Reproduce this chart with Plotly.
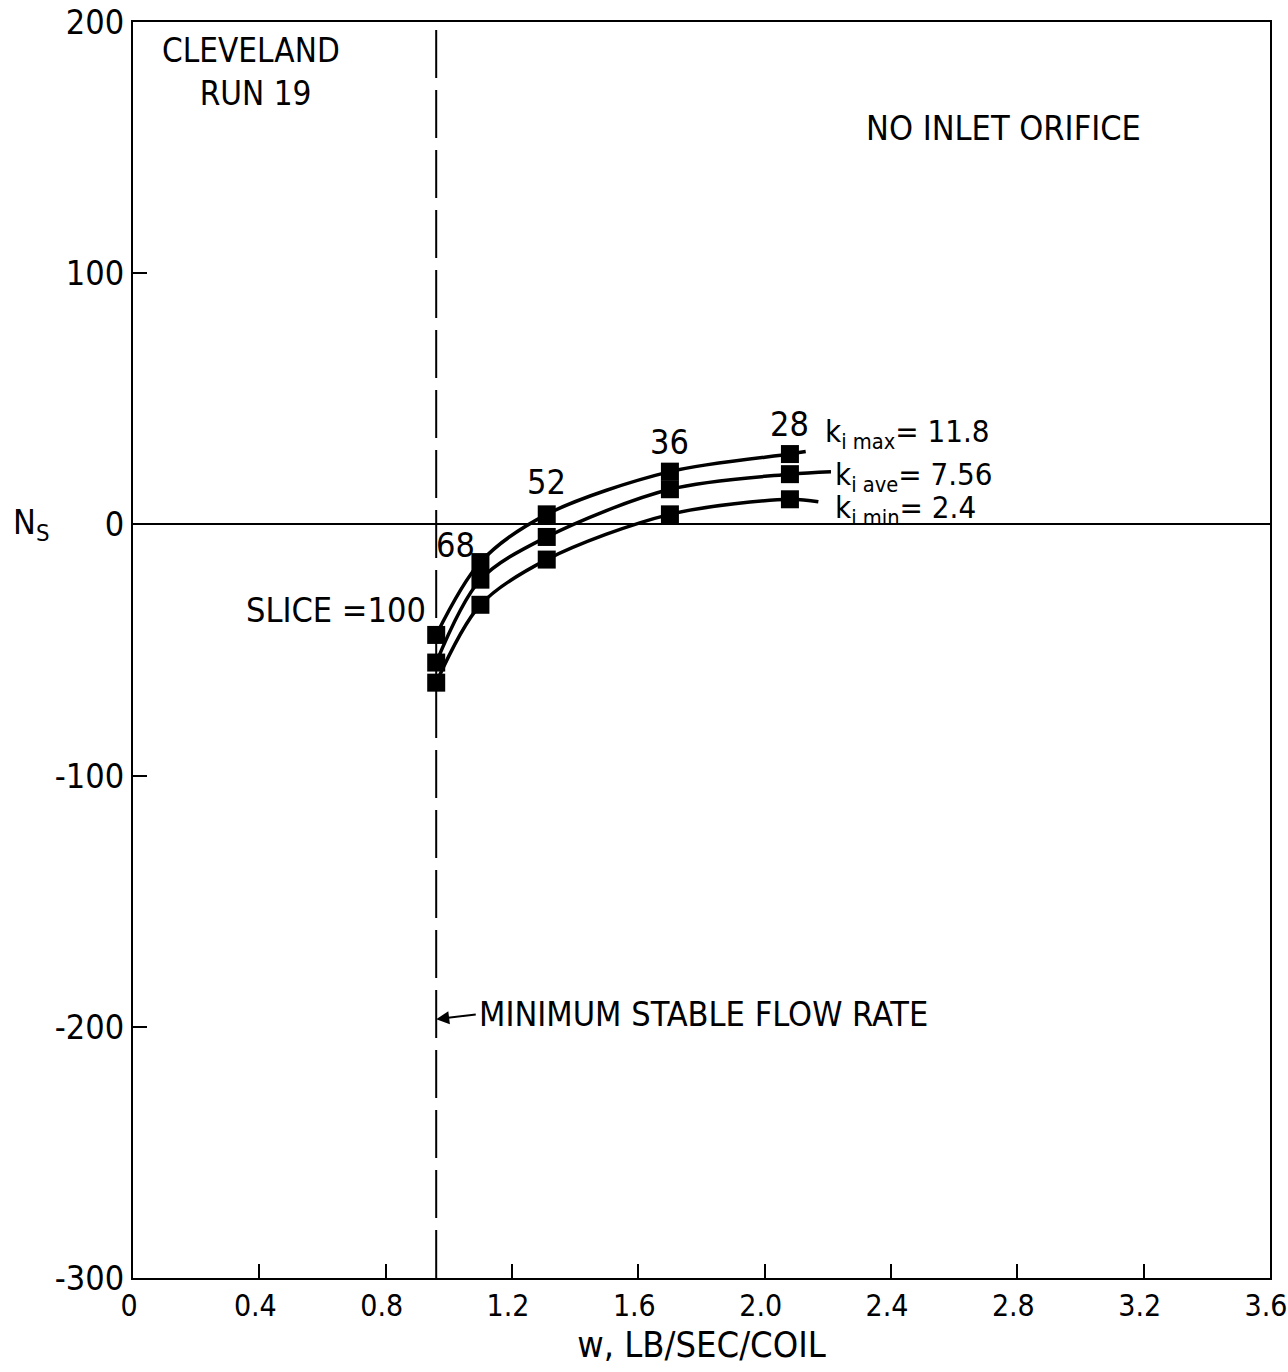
import plotly.graph_objects as go

# Flow rate per coil (lb/sec/coil) at each slice setting
flow_rate = [0.96, 1.10, 1.31, 1.70, 2.08]
slice_values = [100, 68, 52, 36, 28]

# Stability number N_s for three inlet loss coefficients
ns_kmax = [-44, -15, 4, 21, 28]
ns_kave = [-55, -22, -5, 14, 20]
ns_kmin = [-63, -32, -14, 4, 10]

# Curve tails drawn past the last measured slice
tail_x = {"kmax": 2.13, "kave": 2.21, "kmin": 2.17}
tail_y = {"kmax": 29, "kave": 21, "kmin": 9}

k_labels = {
    "kmax": "k<sub>i max</sub>= 11.8",
    "kave": "k<sub>i ave</sub>= 7.56",
    "kmin": "k<sub>i min</sub>= 2.4",
}

min_stable_flow = 0.96

x_ticks = [0, 0.4, 0.8, 1.2, 1.6, 2.0, 2.4, 2.8, 3.2, 3.6]
x_tick_text = ["0", "0.4", "0.8", "1.2", "1.6", "2.0", "2.4", "2.8", "3.2", "3.6"]
y_ticks = [-300, -200, -100, 0, 100, 200]
y_tick_text = ["-300", "-200", "-100", "0", "100", "200"]

FONT = "DejaVu Sans Condensed, DejaVu Sans, sans-serif"

fig = go.Figure()

series = {"kmax": ns_kmax, "kave": ns_kave, "kmin": ns_kmin}
for key, ys in series.items():
    fig.add_trace(go.Scatter(
        x=flow_rate + [tail_x[key]],
        y=ys + [tail_y[key]],
        mode="lines",
        line=dict(color="black", width=3.5, shape="spline", smoothing=0.9),
        showlegend=False, hoverinfo="skip",
    ))
    fig.add_trace(go.Scatter(
        x=flow_rate, y=ys, mode="markers",
        marker=dict(symbol="square", size=18, color="black"),
        showlegend=False,
    ))

# Minimum stable flow rate marker line
fig.add_shape(type="line", x0=min_stable_flow, x1=min_stable_flow, y0=-300, y1=200,
              xref="x", yref="y",
              line=dict(color="black", width=2, dash="48px,12px"))

annotations = []
txt = dict(font=dict(family=FONT, size=34, color="black"), showarrow=False)

# Run identification block
annotations.append(dict(x=0.375, y=180, text="CLEVELAND<br> RUN 19",
                        font=dict(family=FONT, size=33, color="black"),
                        showarrow=False, align="center"))
annotations.append(dict(x=2.755, y=158, text="NO INLET ORIFICE", **txt))

# Slice settings above each column of points
annotations.append(dict(x=0.935, y=-34, text=f"SLICE ={slice_values[0]}",
                        xanchor="right", **txt))
slice_label_y = [-8, 17, 33, 40]
for xv, yv, s in zip(flow_rate[1:], slice_label_y, slice_values[1:]):
    annotations.append(dict(x=xv - 0.08 if s == 68 else xv, y=yv, text=str(s), **txt))

ktxt = dict(font=dict(family=FONT, size=31, color="black"), showarrow=False)
k_label_pos = {"kmax": (2.185, 36), "kave": (2.215, 19), "kmin": (2.215, 6)}
for key, (xv, yv) in k_label_pos.items():
    annotations.append(dict(x=xv, y=yv, text=k_labels[key], xanchor="left", **ktxt))

annotations.append(dict(
    x=min_stable_flow, y=-197, ax=1.09, ay=-195, axref="x", ayref="y",
    xref="x", yref="y", showarrow=True, arrowhead=2, arrowsize=1.3,
    arrowwidth=2, arrowcolor="black", text="",
))
annotations.append(dict(x=1.09, y=-195, text="MINIMUM STABLE FLOW RATE",
                        xanchor="left", **txt))

# Axis title N_s placed beside the zero tick
annotations.append(dict(x=-0.107, y=0, xref="paper", yref="y", text="N<sub>S</sub>",
                        font=dict(family=FONT, size=34, color="black"), showarrow=False))

fig.update_layout(
    width=1288, height=1372,
    margin=dict(l=133, r=18, t=22, b=94),
    paper_bgcolor="white", plot_bgcolor="white",
    annotations=annotations,
    font=dict(family=FONT, size=34, color="black"),
    xaxis=dict(
        range=[0, 3.6], tickvals=x_ticks, ticktext=x_tick_text,
        ticks="inside", ticklen=14, tickwidth=2, tickcolor="black",
        showline=True, linecolor="black", linewidth=2, mirror=True,
        showgrid=False, zeroline=False, automargin=False,
        ticklabeloverflow="allow", ticklabelshift=-4,
        title=dict(text="w, LB/SEC/COIL", font=dict(family=FONT, size=36), standoff=10),
        tickfont=dict(family=FONT, size=30),
    ),
    yaxis=dict(
        range=[-300, 200], tickvals=y_ticks, ticktext=y_tick_text,
        ticks="inside", ticklen=14, tickwidth=2, tickcolor="black",
        showline=True, linecolor="black", linewidth=2, mirror=True,
        showgrid=False, zeroline=True, zerolinecolor="black", zerolinewidth=1.5,
        automargin=False, ticklabeloverflow="allow",
        tickfont=dict(family=FONT, size=34),
    ),
)

fig.write_html("out.html")
